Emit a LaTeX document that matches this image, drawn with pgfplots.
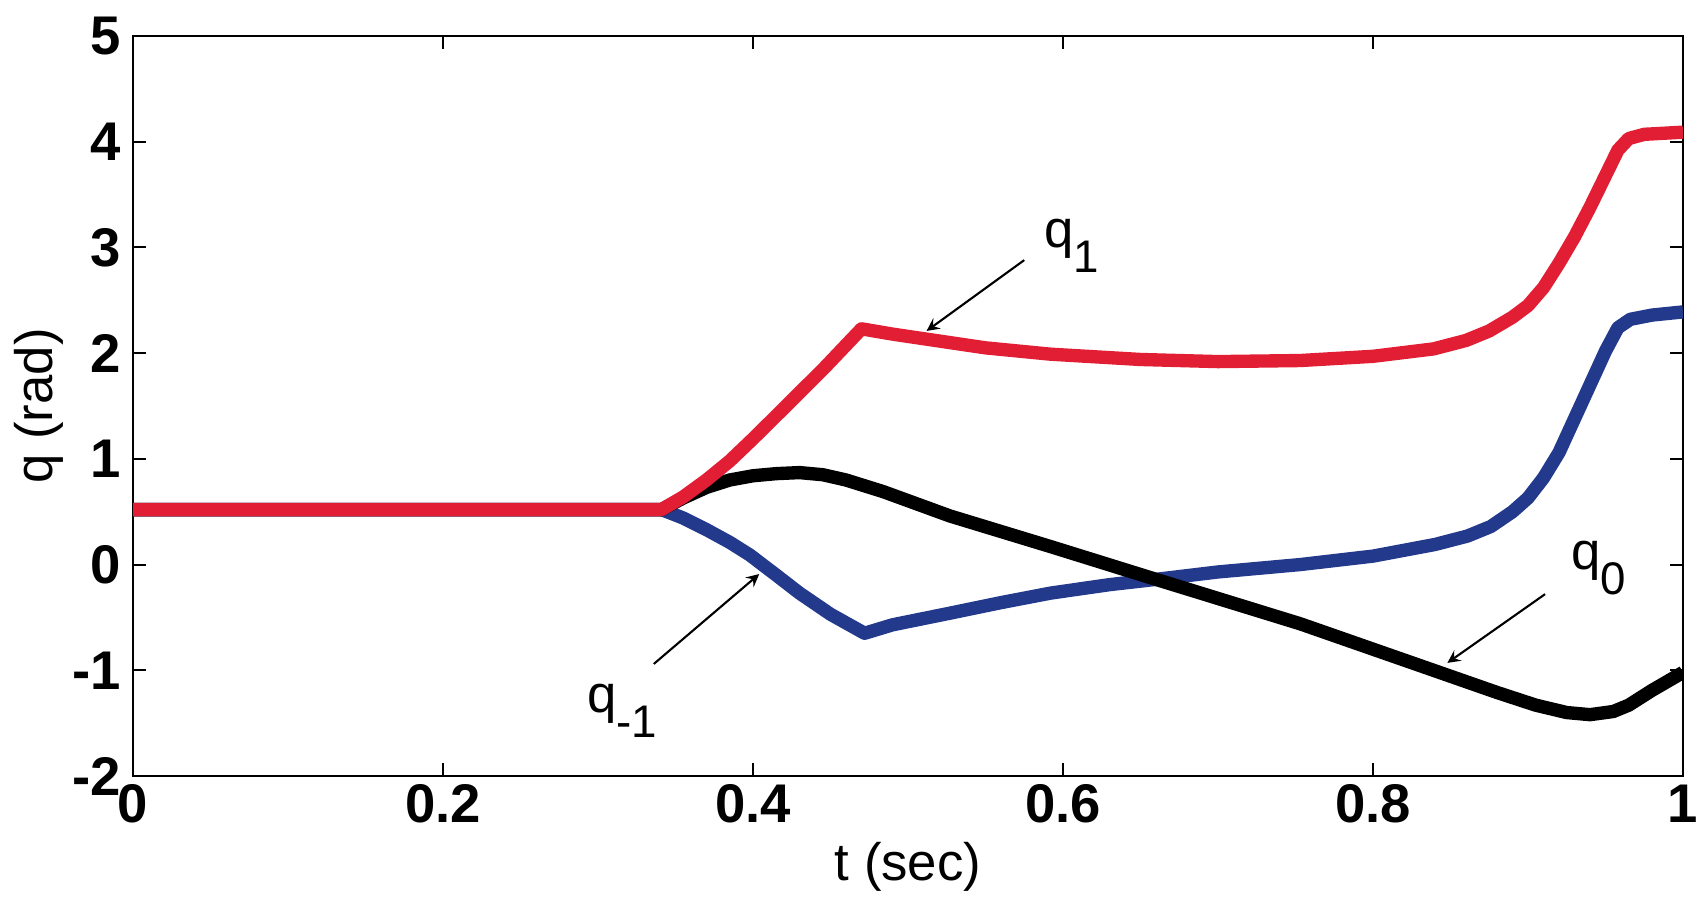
\documentclass[border=0pt]{standalone}
\usepackage{pgfplots}
\pgfplotsset{compat=1.18}
\usepackage{fontspec}
\setmainfont{Liberation Sans}
\definecolor{qred}{RGB}{226,30,52}
\definecolor{qblue}{RGB}{35,58,140}
\newcommand{\lab}[2]{\fontsize{15}{18}\selectfont #1\raisebox{-0.9ex}{\fontsize{13}{15}\selectfont #2}}
\begin{document}
\begin{tikzpicture}
\path[use as bounding box] (-1.33cm,-1.37cm) rectangle (15.67cm,7.76cm);
\begin{axis}[
  scale only axis, width=15.5cm, height=7.4cm,
  xmin=0, xmax=1, ymin=-2, ymax=5,
  xtick={0,0.2,0.4,0.6,0.8,1}, xticklabels={0,0.2,0.4,0.6,0.8,1},
  ytick={-2,-1,0,1,2,3,4,5}, yticklabels={-2,-1,0,1,2,3,4,5},
  tick align=inside, major tick length=0.13cm,
  tick style={black, line width=0.6pt},
  axis line style={black, line width=0.8pt},
  ticklabel style={font=\fontsize{15.5}{18}\selectfont\bfseries},
  xticklabel style={yshift=1pt},
  label style={font=\fontsize{15}{18}\selectfont},
  xlabel={t (sec)}, ylabel={q (rad)},
  xlabel style={at={(axis description cs:0.5,-0.123)}, anchor=center},
  ylabel style={at={(axis description cs:-0.061,0.5)}, anchor=center},
  clip=true,
]
\addplot[qblue, line width=3.8pt, line join=round] coordinates {
(0,0.52) (0.341,0.52) (0.355,0.44) (0.370,0.33) (0.385,0.21) (0.398,0.09)
(0.415,-0.10) (0.430,-0.27) (0.450,-0.47) (0.472,-0.65) (0.49,-0.57)
(0.527,-0.46) (0.56,-0.36) (0.592,-0.27) (0.63,-0.19) (0.66,-0.14) (0.70,-0.07)
(0.753,0.0) (0.80,0.08) (0.84,0.19) (0.861,0.27) (0.876,0.36) (0.89,0.50)
(0.90,0.63) (0.91,0.82) (0.92,1.06) (0.93,1.38) (0.94,1.70) (0.95,2.02)
(0.958,2.24) (0.966,2.32) (0.98,2.36) (1.0,2.39)};
\addplot[black, line width=3.8pt, line join=round] coordinates {
(0,0.52) (0.341,0.52) (0.355,0.63) (0.370,0.73) (0.385,0.80) (0.40,0.84)
(0.415,0.86) (0.430,0.87) (0.445,0.85) (0.46,0.80) (0.484,0.69) (0.527,0.46)
(0.592,0.17) (0.66,-0.14) (0.753,-0.56) (0.839,-1.0) (0.88,-1.21) (0.905,-1.33)
(0.925,-1.40) (0.94,-1.42) (0.955,-1.39) (0.965,-1.33) (0.98,-1.19) (1.0,-1.02)};
\addplot[qred, line width=3.8pt, line join=round] coordinates {
(0,0.52) (0.341,0.52) (0.355,0.64) (0.370,0.80) (0.385,0.98) (0.400,1.19)
(0.420,1.48) (0.446,1.86) (0.470,2.23) (0.490,2.18) (0.513,2.13) (0.55,2.05)
(0.592,1.99) (0.65,1.94) (0.70,1.92) (0.753,1.93) (0.80,1.97) (0.839,2.04)
(0.86,2.12) (0.875,2.21) (0.89,2.34) (0.90,2.45) (0.91,2.62) (0.92,2.85)
(0.93,3.10) (0.94,3.38) (0.95,3.68) (0.958,3.92) (0.965,4.03) (0.975,4.07)
(1.0,4.09)};
\draw[-stealth, line width=0.6pt] (axis cs:0.575,2.88) -- (axis cs:0.512,2.21);
\draw[-stealth, line width=0.6pt] (axis cs:0.336,-0.94) -- (axis cs:0.404,-0.09);
\draw[-stealth, line width=0.6pt] (axis cs:0.911,-0.28) -- (axis cs:0.848,-0.93);
\node[anchor=base west] at (axis cs:0.58,3.0) {\lab{q}{1}};
\node[anchor=base west] at (axis cs:0.285,-1.4) {\lab{q}{-1}};
\node[anchor=base west] at (axis cs:0.920,-0.05) {\lab{q}{0}};
\end{axis}
\end{tikzpicture}
\end{document}
